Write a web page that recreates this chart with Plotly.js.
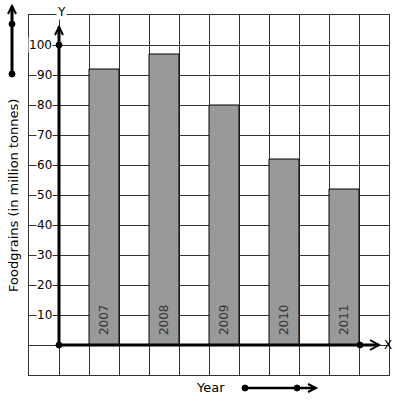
<!DOCTYPE html>
<html><head><meta charset="utf-8">
<script src="https://cdn.plot.ly/plotly-3.0.1.min.js"></script>
<style>html,body{margin:0;padding:0;background:#fff}</style>
</head><body>
<div id="chart" style="width:397px;height:401px"></div>
<script>
const years = ["2007", "2008", "2009", "2010", "2011"];
const positions = [1.5, 3.5, 5.5, 7.5, 9.5];
const foodgrains = [92, 97, 80, 62, 52];
const yTickValues = [10, 20, 30, 40, 50, 60, 70, 80, 90, 100];
const yTickLabels = ["10", "20", "30", "40", "50", "60", "70", "80", "90", "100"];

const L = 29, T = 15, W = 360, H = 360;
const px = x => (x - L) / W;
const py = y => (T + H - y) / H;
const font = "DejaVu Sans, sans-serif";

const shapes = [];
const annotations = [];
function line(x0, y0, x1, y1, w) {
  shapes.push({type: "line", xref: "paper", yref: "paper", x0: px(x0), y0: py(y0), x1: px(x1), y1: py(y1), line: {color: "#000", width: w}, layer: "above"});
}
function dot(x, y) {
  const r = 3;
  shapes.push({type: "circle", xref: "paper", yref: "paper",
    x0: px(x - r), x1: px(x + r), y0: py(y + r), y1: py(y - r),
    fillcolor: "#000", line: {color: "#000", width: 1}, layer: "above"});
}
function chevron(pts, w) {
  let d = pts.map((p, i) => (i ? "L" : "M") + px(p[0]) + "," + py(p[1])).join(" ");
  shapes.push({type: "path", xref: "paper", yref: "paper", path: d, line: {color: "#000", width: w}, layer: "above"});
}

// Y axis
line(59, 345, 59, 27, 3);
chevron([[55, 35], [59, 27], [63, 35]], 2);
dot(59, 45); dot(59, 345);
// X axis
line(59, 345, 379, 345, 3);
chevron([[370, 340], [379, 345], [370, 350]], 2);
dot(360, 345);
// Left decorative arrow
line(12, 74, 12, 6, 3);
chevron([[8, 14], [12, 6], [16, 14]], 2);
dot(12, 24); dot(12, 74);
// Bottom decorative arrow
line(245, 388, 316, 388, 2.5);
chevron([[308, 384], [316, 388], [308, 392]], 2);
dot(245, 388); dot(297, 388);

// Y tick labels
yTickValues.forEach((v, i) => {
  annotations.push({xref: "x", yref: "y", x: -0.2, y: v, text: yTickLabels[i], showarrow: false,
    xanchor: "right", yanchor: "middle", bgcolor: "#fff", borderpad: 0,
    font: {family: font, size: 12, color: "#000"}});
});
// Year labels inside bars
years.forEach((yr, i) => {
  annotations.push({xref: "x", yref: "y", x: positions[i], y: 8.3, text: yr, showarrow: false,
    textangle: -90, xanchor: "center", yanchor: "middle",
    font: {family: font, size: 12, color: "#333"}});
});
// Axis letters
annotations.push({xref: "paper", yref: "paper", x: px(61), y: py(12), text: "Y", showarrow: false,
  xanchor: "center", yanchor: "middle",
  bgcolor: "#fff", borderpad: 0, font: {family: font, size: 12, color: "#000"}});
annotations.push({xref: "paper", yref: "paper", x: px(388), y: py(345), text: "X", showarrow: false,
  xanchor: "center", yanchor: "middle",
  font: {family: font, size: 12, color: "#000"}});
// Titles
annotations.push({xref: "paper", yref: "paper", x: px(13), y: py(196), text: "Foodgrains (in million tonnes)",
  xanchor: "center", yanchor: "middle",
  showarrow: false, textangle: -90, font: {family: font, size: 13, color: "#000"}});
annotations.push({xref: "paper", yref: "paper", x: px(210), y: py(387), text: "Year",
  xanchor: "center", yanchor: "middle",
  showarrow: false, font: {family: font, size: 13, color: "#000"}});

const data = [{
  type: "bar", x: positions, y: foodgrains, width: 1,
  marker: {color: "#999999", line: {color: "#000", width: 1}},
  hoverinfo: "none"
}];

const layout = {
  width: 397, height: 401,
  margin: {l: L, r: 397 - L - W, t: T, b: 401 - T - H, pad: 0},
  paper_bgcolor: "#fff", plot_bgcolor: "#fff",
  showlegend: false,
  xaxis: {range: [-1, 11], dtick: 1, tick0: 0, showgrid: true, gridcolor: "#333", gridwidth: 1,
    showticklabels: false, ticks: "", zeroline: false, showline: true, mirror: true, linecolor: "#333", linewidth: 1, fixedrange: true},
  yaxis: {range: [-10, 110], dtick: 10, tick0: 0, showgrid: true, gridcolor: "#333", gridwidth: 1,
    showticklabels: false, ticks: "", zeroline: false, showline: true, mirror: true, linecolor: "#333", linewidth: 1, fixedrange: true},
  shapes: shapes,
  annotations: annotations
};

Plotly.newPlot("chart", data, layout, {displayModeBar: false, staticPlot: true});
</script>
</body></html>
